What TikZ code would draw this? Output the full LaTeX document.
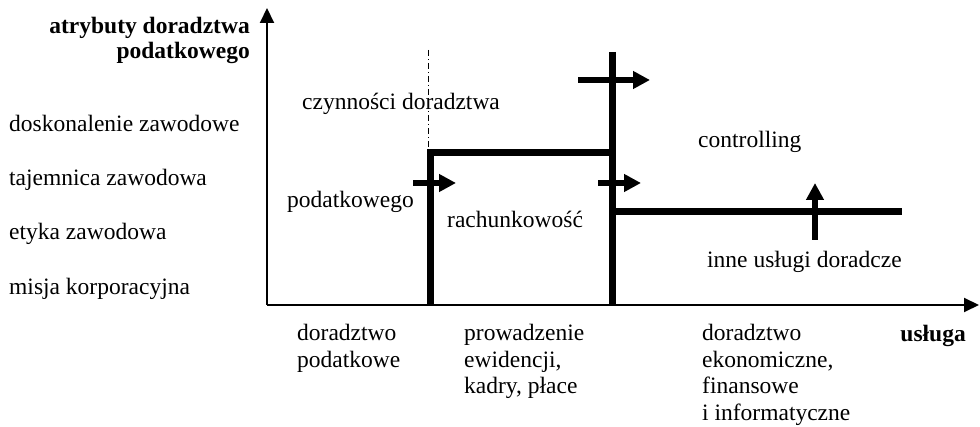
\documentclass[tikz,border=0pt]{standalone}
\usepackage{fontspec}
\setmainfont{Liberation Serif}
\usetikzlibrary{arrows.meta}
\begin{document}
\begin{tikzpicture}[x=1pt,y=-1pt,
  txt/.style={font=\fontsize{23.5}{26.5}\selectfont, inner sep=0pt, align=left},
  btxt/.style={font=\fontsize{23.5}{25}\selectfont\bfseries, inner sep=0pt, align=right},
  axisline/.style={line width=2pt, -{Triangle[length=15pt,width=14pt]}},
  bar/.style={line width=7pt, line join=miter},
  shiftarrow/.style={line width=6pt, -{Triangle[length=17pt,width=17pt]}},
  dashdot/.style={line width=1pt, dash pattern=on 6pt off 3pt on 1pt off 3pt}
]
\useasboundingbox (0,0) rectangle (980,427);
% axes
\coordinate (O) at (267,305);
\coordinate (ytop) at (267,8);
\coordinate (xend) at (979,305);
\draw[axisline] (O) -- (ytop);
\draw[axisline] (O) -- (xend);
% dash-dot line
\coordinate (d1) at (428,50);
\coordinate (d2) at (428,150);
\draw[dashdot] (d1) -- (d2);
% thick boundary lines
\coordinate (b1) at (430,305);
\coordinate (b2) at (430,153);
\coordinate (b3) at (612,153);
\coordinate (c1) at (612,52);
\coordinate (c2) at (612,305);
\coordinate (e1) at (612,212);
\coordinate (e2) at (902,212);
\draw[bar] (b1) -- (b2) -- (b3);
\draw[bar] (c1) -- (c2);
\draw[bar] (e1) -- (e2);
% shift arrows
\coordinate (s1a) at (413,183); \coordinate (s1b) at (456,183);
\coordinate (s2a) at (578,80);  \coordinate (s2b) at (650,80);
\coordinate (s3a) at (598,183); \coordinate (s3b) at (641,183);
\coordinate (s4a) at (815,240); \coordinate (s4b) at (815,183);
\draw[shiftarrow] (s1a) -- (s1b);
\draw[shiftarrow] (s2a) -- (s2b);
\draw[shiftarrow] (s3a) -- (s3b);
\draw[shiftarrow] (s4a) -- (s4b);
% axis titles
\node[btxt, anchor=north east] (ytitle) at (250,17) {atrybuty doradztwa\\podatkowego};
\node[btxt, anchor=base east] (xtitle) at (966,342) {usługa};
% left labels
\node[txt, anchor=base west] (l1) at (9,132) {doskonalenie zawodowe};
\node[txt, anchor=base west] (l2) at (9,186) {tajemnica zawodowa};
\node[txt, anchor=base west] (l3) at (9,240) {etyka zawodowa};
\node[txt, anchor=base west] (l4) at (9,295) {misja korporacyjna};
% inner labels
\node[txt, anchor=base west] (t1) at (302,110) {czynności doradztwa};
\node[txt, anchor=base west] (t2) at (287,208) {podatkowego};
\node[txt, anchor=base west] (t3) at (447,228) {rachunkowość};
\node[txt, anchor=base west] (t4) at (698,148) {controlling};
\node[txt, anchor=base west] (t5) at (707,268) {inne usługi doradcze};
% bottom labels
\node[txt, anchor=north west] (u1) at (297,324) {doradztwo\\podatkowe};
\node[txt, anchor=north west] (u2) at (464,324) {prowadzenie\\ewidencji,\\kadry, płace};
\node[txt, anchor=north west] (u3) at (702,324) {doradztwo\\ekonomiczne,\\finansowe\\i informatyczne};
\end{tikzpicture}
\end{document}
